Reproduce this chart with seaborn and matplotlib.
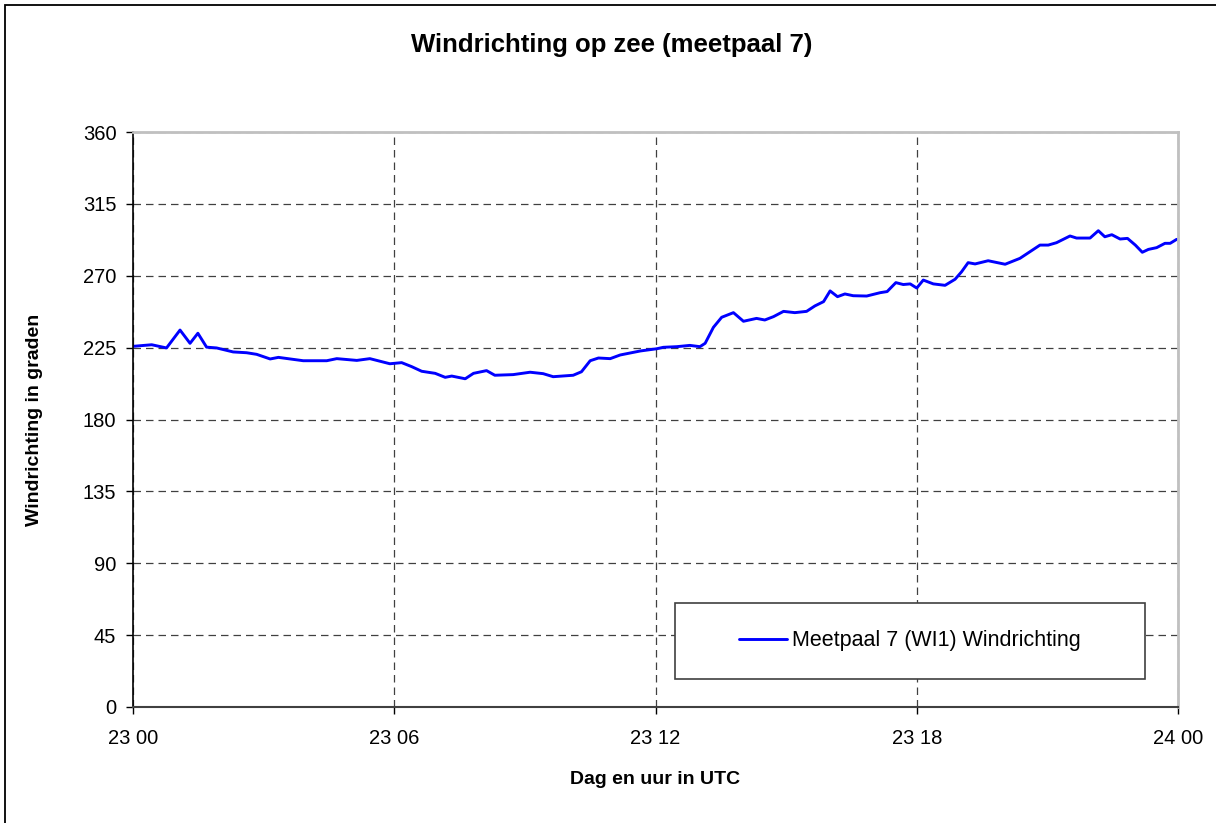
import pandas as pd
import matplotlib.pyplot as plt
import seaborn as sns
from matplotlib.patches import Rectangle

# -------------------- DATA --------------------
hours = [0.00, 0.43, 0.77, 1.08, 1.31, 1.49, 1.69, 1.92, 2.30, 2.61, 2.84, 3.15, 3.34,
         3.61, 3.91, 4.45, 4.68, 5.14, 5.44, 5.90, 6.17, 6.40, 6.63, 6.94, 7.17, 7.32,
         7.63, 7.82, 8.12, 8.31, 8.73, 9.12, 9.42, 9.65, 10.11, 10.30, 10.50, 10.69,
         10.96, 11.19, 11.65, 12.03, 12.18, 12.49, 12.79, 13.02, 13.14, 13.33, 13.52,
         13.79, 14.02, 14.32, 14.51, 14.71, 14.94, 15.20, 15.47, 15.66, 15.86, 16.01,
         16.18, 16.35, 16.54, 16.85, 17.16, 17.32, 17.52, 17.69, 17.85, 18.00, 18.15,
         18.38, 18.65, 18.88, 19.03, 19.18, 19.34, 19.64, 20.03, 20.37, 20.83, 21.02,
         21.21, 21.52, 21.67, 21.98, 22.17, 22.32, 22.48, 22.67, 22.84, 23.02, 23.18,
         23.32, 23.51, 23.70, 23.82, 23.97]
richting = [225.8, 226.8, 224.8, 236.0, 227.7, 234.0, 225.3, 224.8, 222.3, 221.8, 220.8,
            217.9, 218.9, 217.9, 216.8, 216.8, 218.1, 217.0, 218.1, 214.9, 215.6, 213.1,
            210.2, 208.9, 206.4, 207.2, 205.5, 208.9, 210.6, 207.7, 208.1, 209.6, 208.7,
            206.8, 207.7, 209.9, 216.8, 218.5, 218.1, 220.4, 222.9, 224.3, 225.2, 225.6,
            226.4, 225.6, 227.7, 237.7, 244.0, 246.9, 241.5, 243.3, 242.3, 244.4, 247.7,
            246.9, 247.7, 251.1, 253.8, 260.5, 256.9, 258.6, 257.5, 257.3, 259.4, 260.1,
            265.7, 264.5, 264.9, 262.3, 267.3, 264.9, 264.0, 267.8, 272.5, 278.2, 277.4,
            279.4, 277.2, 280.9, 289.2, 289.2, 290.7, 294.9, 293.6, 293.6, 298.2, 294.4,
            295.7, 293.0, 293.4, 289.2, 284.7, 286.5, 287.6, 290.3, 290.3, 292.8]
x_ticks = [0, 6, 12, 18, 24]
x_labels = ["23 00", "23 06", "23 12", "23 18", "24 00"]
y_ticks = list(range(0, 361, 45))
serie_naam = "Meetpaal 7 (WI1) Windrichting"
# ----------------------------------------------

df = pd.DataFrame({"uur": hours, "graden": richting})

sns.set_style("white")
plt.rcParams['font.family'] = ['Liberation Sans', 'DejaVu Sans']
plt.rcParams['text.color'] = 'black'
plt.rcParams['xtick.color'] = 'black'
plt.rcParams['ytick.color'] = 'black'

fig = plt.figure(figsize=(12.16, 8.23), dpi=100)
ax = fig.add_axes([133 / 1216, 1 - 707 / 823, 1045 / 1216, 575 / 823])

sns.lineplot(data=df, x="uur", y="graden", ax=ax, color="#0000ff", linewidth=2.1,
             label=serie_naam)

ax.set_xlim(0, 24)
ax.set_ylim(0, 360)
ax.set_xticks(x_ticks)
ax.set_xticklabels(x_labels)
ax.set_yticks(y_ticks)
ax.tick_params(axis='both', labelsize=14.5, direction='out', length=5, width=1,
               color='black', labelcolor='black', left=True, bottom=True)
ax.tick_params(axis='x', pad=11)
ax.tick_params(axis='y', pad=7)

ax.grid(True, linestyle=(0, (6, 4)), color='#404040', linewidth=0.9)
ax.set_axisbelow(True)

for side in ['top', 'right']:
    ax.spines[side].set_color('#c0c0c0')
    ax.spines[side].set_linewidth(2)
ax.spines['left'].set_color('black')
ax.spines['left'].set_linewidth(1.2)
ax.spines['bottom'].set_color('#404040')
ax.spines['bottom'].set_linewidth(1.5)

ax.set_xlabel("")
ax.set_ylabel("")

# legend box
ax.add_patch(Rectangle((0.5187, 0.0487), 0.4498, 0.132, transform=ax.transAxes,
                       facecolor='white', edgecolor='#404040', linewidth=1.2, zorder=4))
leg = ax.legend(loc='center', bbox_to_anchor=(0.7435, 0.1148), frameon=False,
                fontsize=15.5, handlelength=2.2, handletextpad=0.25)
leg.set_zorder(5)
for t in leg.get_texts():
    t.set_color('black')

fig.text(612 / 1216, 1 - 45 / 823, "Windrichting op zee (meetpaal 7)", ha='center',
         va='center', fontsize=18.5, fontweight='bold')
fig.text(655 / 1216, 1 - 780 / 823, "Dag en uur in UTC", ha='center', va='center',
         fontsize=14, fontweight='bold')
fig.text(35 / 1216, 1 - 420 / 823, "Windrichting in graden", ha='center', va='center',
         rotation=90, fontsize=14, fontweight='bold')

# outer chart frame
fig.patches.append(Rectangle((5 / 1216, -0.1), 1.2, 1.1 - 5 / 823, transform=fig.transFigure,
                             fill=False, edgecolor='black', linewidth=1.3))

fig.savefig("out.png", dpi=100)
